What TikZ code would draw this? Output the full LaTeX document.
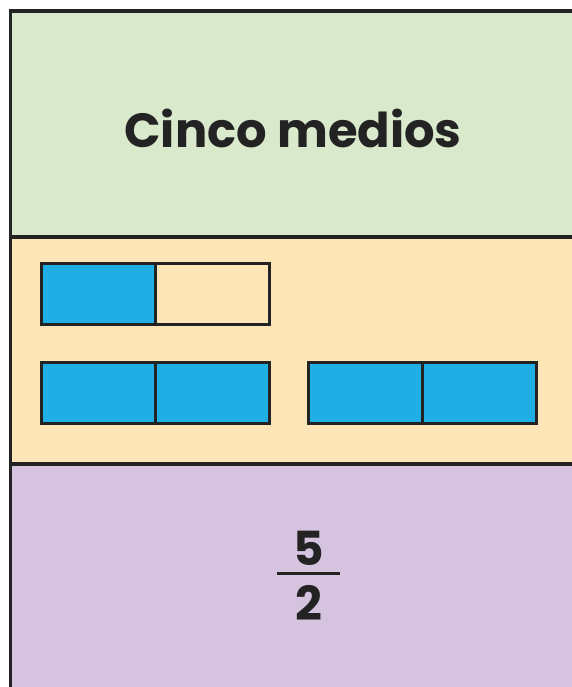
\documentclass[tikz,border=0pt]{standalone}
\usepackage{fontspec}
\setmainfont{Poppins}
\usetikzlibrary{positioning}
\definecolor{TopGreen}{RGB}{217,233,204}
\definecolor{MidOrange}{RGB}{253,229,183}
\definecolor{LowPurple}{RGB}{213,195,223}
\definecolor{BarBlue}{RGB}{32,175,228}
\definecolor{LineC}{RGB}{35,35,35}
\tikzset{
  band/.style={draw=LineC,line width=3.2pt},
  half/.style={draw=LineC,line width=3pt,minimum width=114pt,minimum height=61pt,
               inner sep=0pt,outer sep=0pt},
  fullhalf/.style={half,fill=BarBlue},
  emptyhalf/.style={half,fill=none},
  digit/.style={inner sep=0pt,outer sep=0pt,text=LineC,font=\fontsize{47}{50}\selectfont\bfseries},
}

\begin{document}
\begin{tikzpicture}[x=1pt,y=-1pt]
  \useasboundingbox (0,0) rectangle (572,687);
  \fill[white] (0,0) rectangle (572,687);
  % the three bands of the card
  \filldraw[band,fill=TopGreen]  (10.5,11)  rectangle (600,237);
  \filldraw[band,fill=MidOrange] (10.5,237) rectangle (600,464);
  \filldraw[band,fill=LowPurple] (10.5,464) rectangle (600,720);
  \node[text=LineC,font=\fontsize{48}{56}\selectfont\bfseries] (title) at (293,128) {Cinco medios};
  % one half
  \node[fullhalf] (r1a) at (98,293.5) {};
  \node[emptyhalf,right=0pt of r1a] (r1b) {};
  % two halves, twice
  \node[fullhalf] (r2a) at (98,393) {};
  \node[fullhalf,right=0pt of r2a] (r2b) {};
  \node[fullhalf,right=39pt of r2b] (r2c) {};
  \node[fullhalf,right=0pt of r2c] (r2d) {};
  % five over two
  \node[fill=LineC,minimum width=63pt,minimum height=2.5pt,inner sep=0pt] (fbar) at (308.5,573.5) {};
  \node[digit,above=7pt of fbar] (num) {5};
  \node[digit,below=10pt of fbar] (den) {2};
\end{tikzpicture}
\end{document}
